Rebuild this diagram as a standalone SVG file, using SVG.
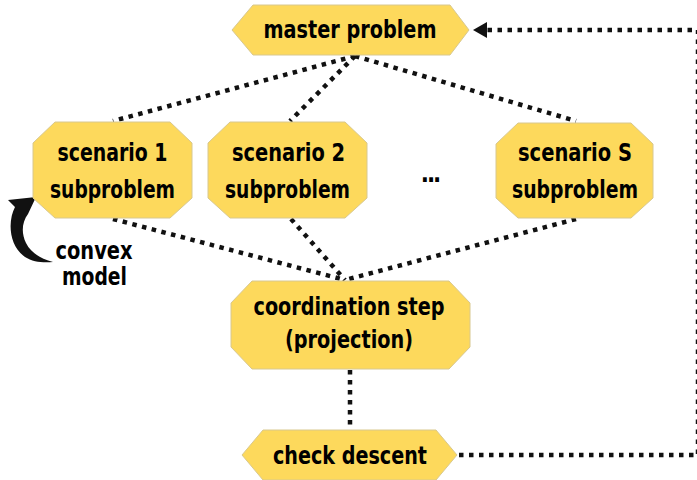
<svg xmlns="http://www.w3.org/2000/svg" width="697" height="480" viewBox="0 0 697 480">
  <defs>
    <style>
      .node { fill: #FDD95C; stroke: #D8C88F; stroke-width: 1; }
      .lbl { font-family: 'DejaVu Sans Condensed', 'DejaVu Sans', sans-serif; font-stretch: condensed; font-weight: bold; font-size: 24px; fill: #000; text-anchor: middle; }
      .dot { fill: none; stroke: #111; stroke-width: 4.5; stroke-dasharray: 4.5 5.5; }
    </style>
  </defs>
  <rect width="697" height="480" fill="#fff"/>

  <!-- connectors -->
  <g id="connectors">
    <path class="dot" d="M355,56 L113,121"/>
    <path class="dot" d="M355,56 L290,121"/>
    <path class="dot" d="M355,56 L576,121"/>
    <path class="dot" d="M113,219 L345,280"/>
    <path class="dot" d="M291,219 L345,280"/>
    <path class="dot" d="M576,219 L345,280"/>
    <path class="dot" d="M350,370 L350,429"/>
    <path class="dot" d="M459,455 L698,455 L698,30 L487,30"/>
    <polygon points="473,30 487,22 487,38" fill="#111"/>
    <!-- curved arrow for the convex model note -->
    <path d="M36,197 L8,200 L15,207 C8,220 8,245 25,257 C33,262 43,263 53,262 C41,259 31,253 26,243 C21,233 22,222 28,214 Z" fill="#111"/>
  </g>

  <g id="master">
    <polygon class="node" points="232,30 253,5 450,5 469,30 450,55 253,55"/>
    <text class="lbl" x="350" y="38" textLength="173" lengthAdjust="spacingAndGlyphs">master problem</text>
  </g>

  <g id="scenario1">
    <polygon class="node" points="55,122 170,122 192,143 192,198 170,218 55,218 33,198 33,143"/>
    <text class="lbl" x="112.5" y="161" textLength="110" lengthAdjust="spacingAndGlyphs">scenario 1</text>
    <text class="lbl" x="112.5" y="198" textLength="125" lengthAdjust="spacingAndGlyphs">subproblem</text>
  </g>

  <g id="scenario2">
    <polygon class="node" points="230,122 345,122 367,143 367,198 345,218 230,218 208,198 208,143"/>
    <text class="lbl" x="288.5" y="161" textLength="113" lengthAdjust="spacingAndGlyphs">scenario 2</text>
    <text class="lbl" x="287.5" y="198" textLength="125" lengthAdjust="spacingAndGlyphs">subproblem</text>
  </g>

  <g id="ellipsis">
    <text class="lbl" x="430" y="182" letter-spacing="-2">...</text>
  </g>

  <g id="scenarioS">
    <polygon class="node" points="518,123 631,123 653,144 653,198 631,218 518,218 496,198 496,144"/>
    <text class="lbl" x="575" y="161" textLength="114" lengthAdjust="spacingAndGlyphs">scenario S</text>
    <text class="lbl" x="575" y="198" textLength="126" lengthAdjust="spacingAndGlyphs">subproblem</text>
  </g>

  <g id="coordination">
    <polygon class="node" points="252,281 449,281 470,303 470,347 449,369 252,369 231,347 231,303"/>
    <text class="lbl" x="349" y="315" textLength="191" lengthAdjust="spacingAndGlyphs">coordination step</text>
    <text class="lbl" x="349" y="348" textLength="128" lengthAdjust="spacingAndGlyphs">(projection)</text>
  </g>

  <g id="check">
    <polygon class="node" points="242,455 263,430 436,430 457,455 436,480 263,480"/>
    <text class="lbl" x="350" y="464" textLength="154" lengthAdjust="spacingAndGlyphs">check descent</text>
  </g>

  <g id="note">
    <text class="lbl" x="94" y="259" textLength="77" lengthAdjust="spacingAndGlyphs">convex</text>
    <text class="lbl" x="94.5" y="285" textLength="65" lengthAdjust="spacingAndGlyphs">model</text>
  </g>
</svg>
